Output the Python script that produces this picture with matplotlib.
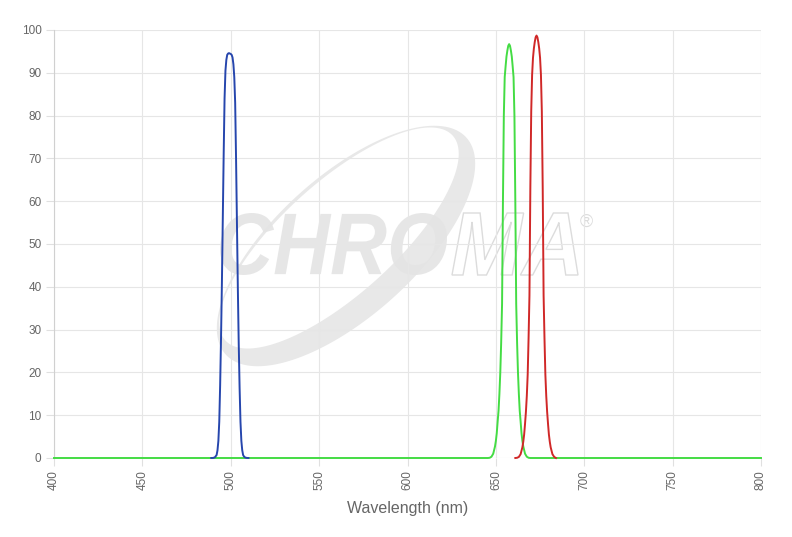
import numpy as np
import matplotlib
matplotlib.use("Agg")
import matplotlib.pyplot as plt
from matplotlib.textpath import TextPath
from matplotlib.font_manager import FontProperties
from matplotlib.patches import PathPatch
from matplotlib.path import Path
from matplotlib.transforms import Affine2D

plt.rcParams['font.family'] = ['Liberation Sans', 'DejaVu Sans']

# ---- data ----
blue_wl = [489, 490, 491, 492, 492.5, 493, 493.5, 494, 494.5, 495, 495.5, 496, 496.5,
           497, 497.5, 498, 498.5, 499, 499.5, 500, 500.5, 501, 501.5, 502, 502.5,
           503, 503.5, 504, 504.5, 505, 505.5, 506, 506.5, 507, 507.5, 508, 509, 510]
blue_t = [0, 0.02, 0.15, 0.7, 1.8, 4, 8.5, 17, 28, 41, 56, 71, 84,
          90.5, 93, 94.2, 94.5, 94.6, 94.5, 94.4, 94.2, 93.6, 92, 89, 83,
          70, 55, 40, 27, 16.5, 8.5, 4, 1.8, 0.7, 0.35, 0.15, 0.02, 0]

green_wl = [400, 645.5, 646.5, 647.5, 648.5, 649.5, 650, 650.5, 651, 651.5, 652, 652.5,
            653, 653.5, 654, 654.5, 655, 655.5, 656, 656.5, 657, 657.5, 658, 658.5,
            659, 659.5, 660, 660.5, 661, 661.5, 662, 662.5, 663, 663.5, 664, 664.5,
            665, 665.5, 666.5, 667.5, 668.5, 669.5, 800]
green_t = [0, 0, 0.05, 0.3, 1.0, 2.7, 4.0, 5.8, 8.5, 11, 15, 20,
           27, 36, 60, 80, 89, 91.5, 93.8, 95.2, 96.3, 96.7, 96.3, 95.2,
           93.8, 91.5, 89, 80, 60, 36, 27, 20, 15, 11, 8.5, 5.8,
           4.0, 2.7, 1.0, 0.3, 0.05, 0, 0]

red_wl = [661, 662, 663, 664, 665, 665.5, 666, 666.5, 667, 667.5, 668, 668.5,
          669, 669.5, 670, 670.5, 671, 671.5, 672, 672.5, 673, 673.5, 674,
          674.5, 675, 675.5, 676, 676.5, 677, 677.5, 678, 678.5, 679, 679.5,
          680, 680.5, 681, 682, 683, 684]
red_t = [0, 0.05, 0.25, 0.9, 2.5, 3.8, 5.5, 8, 10.8, 14.5, 19.5, 28,
         38, 63, 81, 89.5, 93.5, 95.7, 97.2, 98.3, 98.7, 98.3, 97.2,
         95.7, 93.5, 89.5, 81, 63, 38, 28, 19.5, 14.5, 10.8, 8,
         5.5, 3.8, 2.5, 0.9, 0.25, 0]

x_ticks = [400, 450, 500, 550, 600, 650, 700, 750, 800]
y_ticks = [0, 10, 20, 30, 40, 50, 60, 70, 80, 90, 100]
x_label = "Wavelength (nm)"

W, H = 792, 537
fig = plt.figure(figsize=(W / 100, H / 100), dpi=100)
fig.patch.set_facecolor('white')

# ---- watermark overlay in pixel coordinates ----
ov = fig.add_axes([0, 0, 1, 1], zorder=0)
ov.set_xlim(0, W)
ov.set_ylim(H, 0)
ov.axis('off')

wm_col = '#e4e4e4'
t = np.linspace(0, 2 * np.pi, 240)
ang = np.deg2rad(-42)
def ell(cx, cy, a, b):
    x = a * np.cos(t)
    y = b * np.sin(t)
    return np.column_stack([cx + x * np.cos(ang) - y * np.sin(ang),
                            cy + x * np.sin(ang) + y * np.cos(ang)])
outer = ell(346, 246, 162, 70)
inner = ell(346 - 7, 246 - 8, 153, 56)[::-1]
verts = np.vstack([outer, inner])
codes = ([Path.MOVETO] + [Path.LINETO] * (len(outer) - 2) + [Path.CLOSEPOLY]) * 2
ov.add_patch(PathPatch(Path(verts, codes), facecolor=wm_col, edgecolor='none', alpha=0.85))

fp = FontProperties(family='Liberation Sans', weight='bold', style='italic')
def place_text(s, x0, x1, ytop, ybot, **kw):
    tp = TextPath((0, 0), s, prop=fp, size=1)
    bb = tp.get_extents()
    sx = (x1 - x0) / bb.width
    sy = (ybot - ytop) / bb.height
    tr = Affine2D().translate(-bb.x0, -bb.y0).scale(sx, -sy).translate(x0, ybot)
    ov.add_patch(PathPatch(tr.transform_path(tp), **kw))

place_text("CHRO", 220, 447, 213, 275, facecolor=wm_col, edgecolor='none', alpha=0.9)
place_text("MA", 452, 578, 213, 275, facecolor='none', edgecolor='#dcdcdc', lw=1.0)
ov.text(586, 222, "®", color='#dcdcdc', fontsize=13, ha='center', va='center')

# ---- main chart ----
ax = fig.add_axes([54 / W, 1 - 458 / H, (761 - 54) / W, (458 - 30) / H], zorder=1)
ax.patch.set_alpha(0)
ax.set_xlim(400, 800)
ax.set_ylim(0, 100)

ax.plot(green_wl, green_t, color='#44dc44', lw=1.4, zorder=3, clip_on=False)
ax.plot(blue_wl, blue_t, color='#2646ad', lw=1.4, zorder=4, clip_on=False)
ax.plot(red_wl, red_t, color='#d02828', lw=1.4, zorder=4, clip_on=False)

ax.set_xticks(x_ticks)
ax.set_yticks(y_ticks)
ax.set_xticklabels([str(v) for v in x_ticks], rotation=90)
ax.grid(True, color='#e6e6e6', lw=0.8, zorder=0)
ax.set_axisbelow(True)
for s in ['top', 'right', 'bottom']:
    ax.spines[s].set_visible(False)
ax.spines['left'].set_color('#d0d0d0')
ax.tick_params(axis='both', length=6, color='#e0e0e0', labelcolor='#666666',
               labelsize=8.5, pad=3)
ax.set_xlabel(x_label, fontsize=11.5, color='#666666', labelpad=8)

fig.savefig('out.png', dpi=100, facecolor='white')
